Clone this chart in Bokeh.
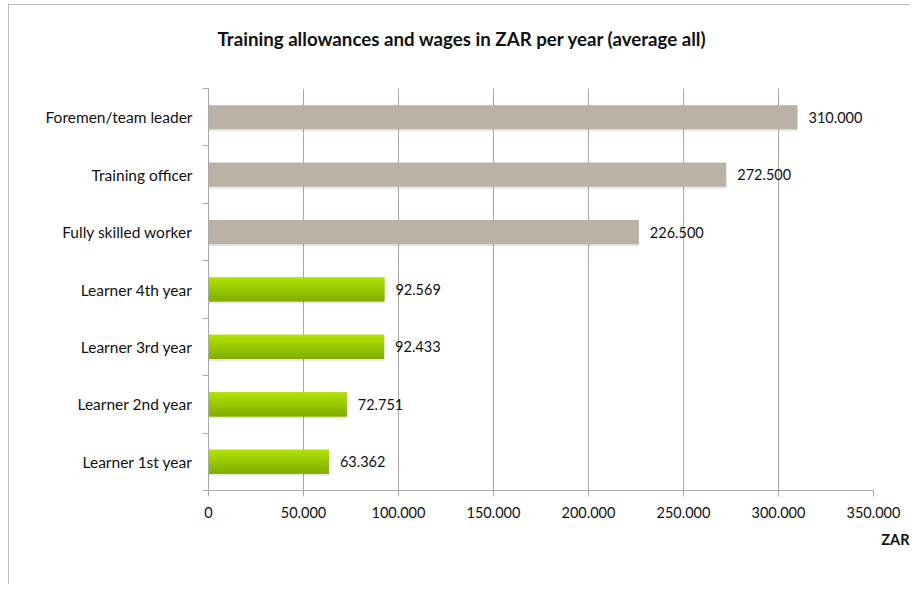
from bokeh.plotting import figure
from bokeh.models import FixedTicker, Range1d, ColumnDataSource, Title
from bokeh.transform import dodge
from bokeh.core.properties import value
from bokeh.embed import file_html
from bokeh.resources import INLINE

# ---- data ----
title_text = "Training allowances and wages in ZAR per year (average all)"
categories = ["Learner 1st year", "Learner 2nd year", "Learner 3rd year", "Learner 4th year",
              "Fully skilled worker", "Training officer", "Foremen/team leader"]
values = [63362, 72751, 92433, 92569, 226500, 272500, 310000]
value_labels = ["63.362", "72.751", "92.433", "92.569", "226.500", "272.500", "310.000"]
groups = ["learner", "learner", "learner", "learner", "staff", "staff", "staff"]
x_ticks = [0, 50000, 100000, 150000, 200000, 250000, 300000, 350000]
x_tick_labels = ["0", "50.000", "100.000", "150.000", "200.000", "250.000", "300.000", "350.000"]
axis_title = "ZAR"

FONT = "Lato"
TXT = "#111111"
GRID = "#a8a8a8"

ypos = list(range(len(categories)))
src = ColumnDataSource(dict(y=ypos, val=values, lab=value_labels))
learn_idx = [i for i, g in enumerate(groups) if g == "learner"]
staff_idx = [i for i, g in enumerate(groups) if g == "staff"]
src_l = ColumnDataSource(dict(y=[ypos[i] for i in learn_idx], val=[values[i] for i in learn_idx]))
src_s = ColumnDataSource(dict(y=[ypos[i] for i in staff_idx], val=[values[i] for i in staff_idx]))

p = figure(width=902, height=580, x_range=Range1d(x_ticks[0], x_ticks[-1]),
           y_range=Range1d(-0.5, len(categories) - 0.5), title=None,
           output_backend="svg", toolbar_location=None,
           min_border_left=199, min_border_right=38, min_border_top=83, min_border_bottom=95)
p.styles = {"margin-left": "8px", "margin-top": "4px",
            "border-left": "1px solid #bbbbbb", "border-top": "1px solid #bbbbbb"}
p.outline_line_color = None
p.background_fill_color = "white"
p.border_fill_color = "white"

# title: a thin spacer next to the frame, then the chart title further out
p.add_layout(Title(text=" ", text_font_size="1px", standoff=31), "above")
p.add_layout(Title(text=title_text, align="left", offset=9, text_font=FONT,
                   text_font_size="18.7px", text_font_style="bold", text_color=TXT,
                   standoff=10), "above")

# grid
p.ygrid.visible = False
p.xgrid.ticker = FixedTicker(ticks=x_ticks)
p.xgrid.grid_line_color = GRID
p.xgrid.grid_line_width = 1

# x axis
xa = p.xaxis[0]
xa.ticker = FixedTicker(ticks=x_ticks)
xa.major_label_overrides = {t: l for t, l in zip(x_ticks, x_tick_labels)}
xa.axis_line_color = GRID
xa.major_tick_line_color = GRID
xa.major_tick_out = 6
xa.major_tick_in = 0
xa.minor_tick_line_color = None
xa.major_label_text_font = FONT
xa.major_label_text_font_size = "14.5px"
xa.major_label_text_color = TXT
xa.major_label_standoff = 10

# axis title ZAR, right-aligned under the axis
p.add_layout(Title(text=axis_title, align="right", offset=-36, text_font=FONT,
                   text_font_size="14.5px", text_font_style="bold", text_color=TXT,
                   standoff=16), "below")

# y axis
ya = p.yaxis[0]
ya.ticker = FixedTicker(ticks=ypos, minor_ticks=[y - 0.5 for y in ypos] + [ypos[-1] + 0.5])
ya.major_label_overrides = {y: c for y, c in zip(ypos, categories)}
ya.axis_line_color = GRID
ya.major_tick_line_color = None
ya.minor_tick_line_color = GRID
ya.minor_tick_out = 6
ya.minor_tick_in = 0
ya.major_label_text_font = FONT
ya.major_label_text_font_size = "15.5px"
ya.major_label_text_color = TXT
ya.major_label_standoff = 10

BAR_H = 0.42

# shadows
p.hbar(y=dodge("y", -0.035, range=p.y_range), left=0, right="val", height=BAR_H,
       source=src, fill_color="#000000", fill_alpha=0.09, line_color=None)

# staff bars (grey)
p.hbar(y="y", left=0, right="val", height=BAR_H, source=src_s,
       fill_color="#bab1a7", line_color=None)

# learner bars: vertical gradient built from overlapping strips
top = (0xb3, 0xe6, 0x00)
bot = (0x80, 0xad, 0x00)
N = 10
p.hbar(y="y", left=0, right="val", height=BAR_H, source=src_l,
       fill_color="#9acb00", line_color=None)
for k in range(N):
    t = (k + 0.5) / N
    c = tuple(int(round(top[j] + (bot[j] - top[j]) * t)) for j in range(3))
    col = "#%02x%02x%02x" % c
    off = BAR_H / 2 - (k + 0.5) * BAR_H / N
    h = BAR_H / N * (1.0 if k in (0, N - 1) else 1.6)
    p.hbar(y=dodge("y", off, range=p.y_range), left=0, right="val",
           height=h, source=src_l, fill_color=col, line_color=None)

# value labels
p.text(x="val", y="y", text="lab", source=src, x_offset=11, text_baseline="middle",
       text_font=value(FONT), text_font_size="14.5px", text_color=TXT)

open("out.html", "w").write(file_html(p, INLINE))
